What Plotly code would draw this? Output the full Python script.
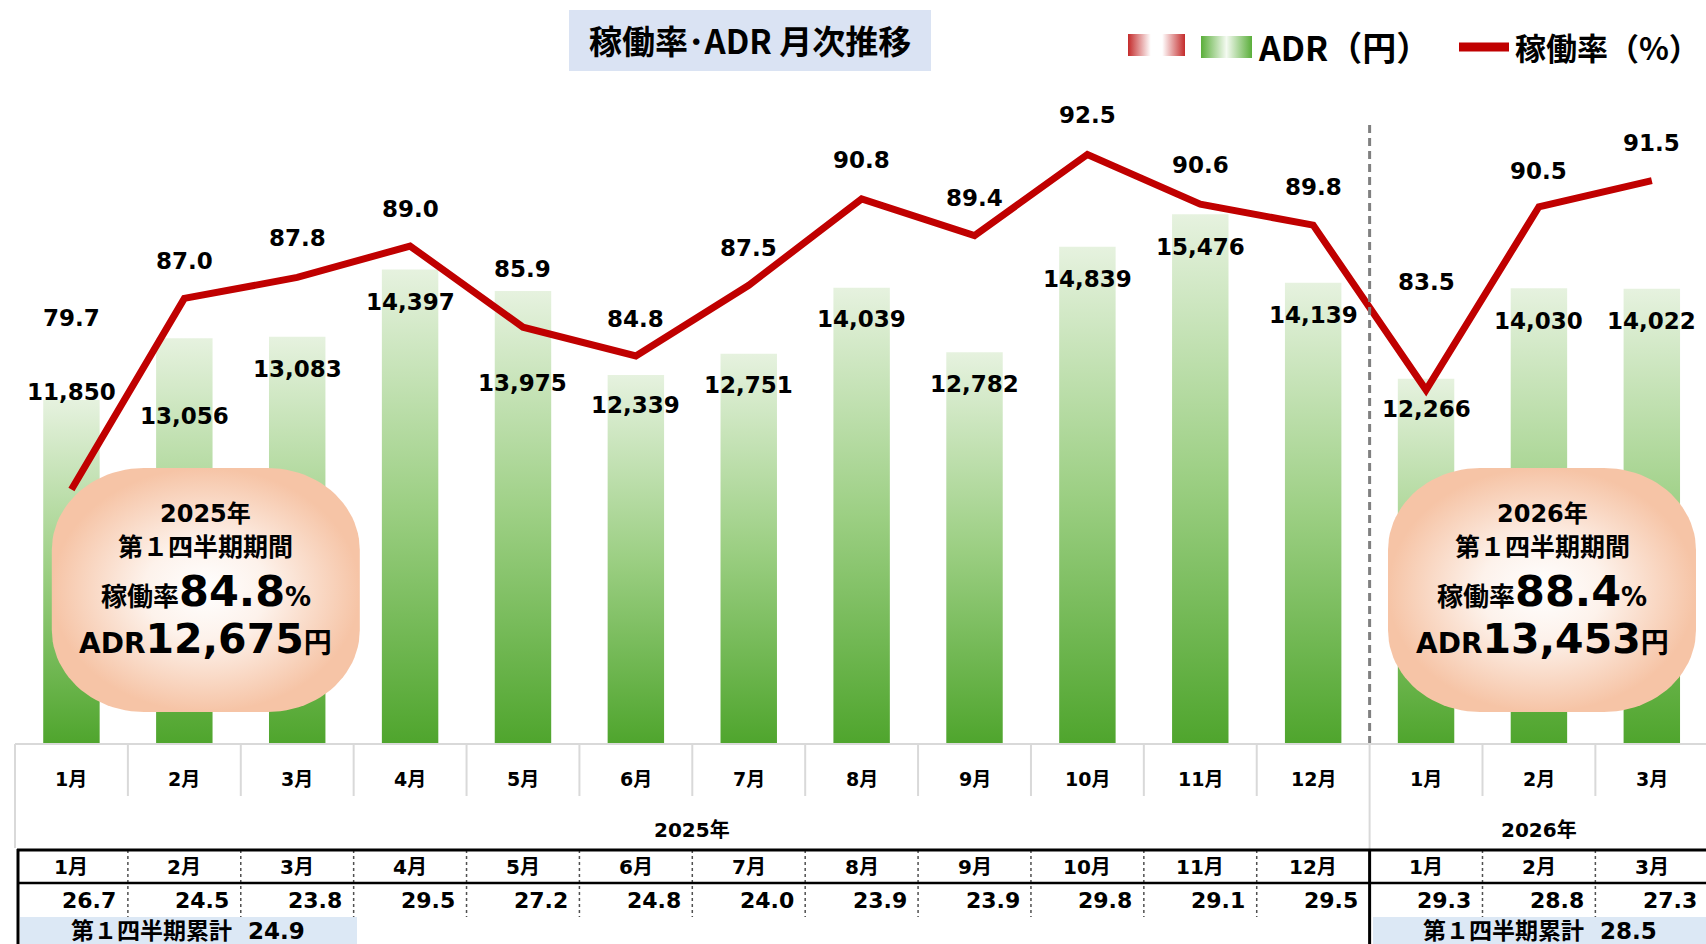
import numpy as np
import plotly.graph_objects as go

# data
months = ['1月', '2月', '3月', '4月', '5月', '6月', '7月', '8月', '9月', '10月', '11月', '12月', '1月', '2月', '3月']
adr = [11850, 13056, 13083, 14397, 13975, 12339, 12751, 14039, 12782, 14839, 15476, 14139, 12266, 14030, 14022]
occupancy = [79.7, 87.0, 87.8, 89.0, 85.9, 84.8, 87.5, 90.8, 89.4, 92.5, 90.6, 89.8, 83.5, 90.5, 91.5]
table_vals = [26.7, 24.5, 23.8, 29.5, 27.2, 24.8, 24.0, 23.9, 23.9, 29.8, 29.1, 29.5, 29.3, 28.8, 27.3]
years = ['2025年', '2026年']
q1_occupancy = [84.8, 88.4]
q1_adr = [12675, 13453]
q1_table = [24.9, 28.5]

# label placement (pixels above/below the mark)
rate_shift = [171, 37, 39, 37, 58, 37, 37, 39, 38, 39, 39, 38, 108, 36, 38]
adr_shift = [8, -78, -32, -32, -92, -30, -31, -31, -32, -32, -33, -32, -30, -33, -32]

W, H = 1706, 944
ADR_RANGE = [5145, 17707]
RATE_RANGE = [70.0, 94.58]
Y_DOM = [(H - 743.3) / H, (H - 100) / H]
NUM = 'DejaVu Sans, Noto Sans CJK JP'
JP = 'Noto Sans CJK JP'
n = len(months)
split = 11.5  # boundary between 2025 and 2026

fig = go.Figure()

# bars with vertical gradient
bar_scale = [[0, '#4fa52d'], [0.5, '#9ccf83'], [1, '#e6f2df']]
for i, v in enumerate(adr):
    b = ADR_RANGE[0]
    fig.add_trace(go.Scatter(
        x=[i - 0.25, i + 0.25, i + 0.25, i - 0.25, i - 0.25],
        y=[b, b, v, v, b], mode='lines', fill='toself',
        fillgradient=dict(type='vertical', colorscale=bar_scale),
        line=dict(width=0), hoverinfo='skip', xaxis='x', yaxis='y'))

# occupancy line
fig.add_trace(go.Scatter(x=list(range(n)), y=occupancy, mode='lines',
                         line=dict(color='#c00000', width=7),
                         hoverinfo='skip', xaxis='x', yaxis='y2'))


def rounded_rect(cx, cy, w, h, rx, ry, k=24):
    pts = []
    corners = [(cx + w / 2 - rx, cy - h / 2 + ry, -90, 0),
               (cx + w / 2 - rx, cy + h / 2 - ry, 0, 90),
               (cx - w / 2 + rx, cy + h / 2 - ry, 90, 180),
               (cx - w / 2 + rx, cy - h / 2 + ry, 180, 270)]
    for ox, oy, a0, a1 in corners:
        t = np.radians(np.linspace(a0, a1, k))
        pts += [(ox + rx * np.cos(a), oy + ry * np.sin(a)) for a in t]
    pts.append(pts[0])
    xs, ys = zip(*pts)
    return list(xs), list(ys)


# summary bubbles (pixel space overlay)
bubble_cx = [205.8, 1542]
for cx in bubble_cx:
    bx, by = rounded_rect(cx, 590, 308, 244, 92, 82)
    fig.add_trace(go.Scatter(x=bx, y=by, mode='lines', fill='toself',
                             fillgradient=dict(type='radial', colorscale=[[0, '#ffffff'], [0.4, '#fdf2eb'], [1, '#f6c4a6']]),
                             line=dict(width=0), hoverinfo='skip', xaxis='x3', yaxis='y3'))

# legend swatches
fig.add_trace(go.Scatter(x=[1128, 1185, 1185, 1128, 1128], y=[34, 34, 56, 56, 34], mode='lines', fill='toself',
                         fillgradient=dict(type='horizontal', colorscale=[[0, '#c42b2b'], [0.4, '#ffffff'], [0.6, '#ffffff'], [1, '#c42b2b']]),
                         line=dict(width=0), hoverinfo='skip', xaxis='x3', yaxis='y3'))
fig.add_trace(go.Scatter(x=[1201, 1252, 1252, 1201, 1201], y=[36, 36, 58, 58, 36], mode='lines', fill='toself',
                         fillgradient=dict(type='horizontal', colorscale=[[0, '#5aae3a'], [0.5, '#f4faf1'], [1, '#5aae3a']]),
                         line=dict(width=0), hoverinfo='skip', xaxis='x3', yaxis='y3'))
fig.add_trace(go.Scatter(x=[1459, 1509], y=[47, 47], mode='lines', line=dict(color='#c00000', width=9),
                         hoverinfo='skip', xaxis='x3', yaxis='y3'))

ann = []
shapes = []


def px_text(x, y, text, size, family=JP, xanchor='center', **kw):
    ann.append(dict(x=x, y=y, xref='x3', yref='y3', text=text, showarrow=False,
                    xanchor=xanchor, yanchor='middle', font=dict(size=size, family=family, color='black'), **kw))


# title
shapes.append(dict(type='rect', xref='x3', yref='y3', x0=569, x1=931, y0=10, y1=71,
                   fillcolor='#dae3f3', line=dict(width=0), layer='below'))
px_text(750, 40, '<b>稼働率･ADR 月次推移</b>', 33)

# legend text
px_text(1256, 46, '<b>ADR（円）</b>', 34, xanchor='left')
px_text(1513, 46, '<b>稼働率（%）</b>', 31, xanchor='left')

# value labels
for i in range(n):
    ann.append(dict(x=i, y=occupancy[i], xref='x', yref='y2', text=f'<b>{occupancy[i]:.1f}</b>',
                    showarrow=False, yshift=rate_shift[i], font=dict(size=23, family=NUM, color='black')))
    ann.append(dict(x=i, y=adr[i], xref='x', yref='y', text=f'<b>{adr[i]:,}</b>',
                    showarrow=False, yshift=adr_shift[i], font=dict(size=23, family=NUM, color='black')))

# bubble text
for k, cx in enumerate(bubble_cx):
    px_text(cx, 514, f'<b>{years[k]}</b>', 24, family=NUM)
    px_text(cx, 545, '<b>第１四半期期間</b>', 25)
    px_text(cx, 591, f'<b>稼働率<span style="font-size:43px">{q1_occupancy[k]:.1f}</span>%</b>', 26, family=NUM)
    px_text(cx, 639, f'<b>ADR<span style="font-size:41px">{q1_adr[k]:,}</span>円</b>', 28, family=NUM)

# divider between years
shapes.append(dict(type='line', xref='x', yref='y3', x0=split, x1=split, y0=125, y1=744,
                   line=dict(color='#808080', width=3, dash='8px,5px')))

# category header (gray)
shapes.append(dict(type='line', xref='x3', yref='y3', x0=15, x1=W, y0=744, y1=744, line=dict(color='#d9d9d9', width=2)))
shapes.append(dict(type='line', xref='x3', yref='y3', x0=15, x1=15, y0=744, y1=848, line=dict(color='#d9d9d9', width=2)))
for k in range(1, n):
    b = k - 0.5
    if b == split:
        shapes.append(dict(type='line', xref='x', yref='y3', x0=b, x1=b, y0=744, y1=850, line=dict(color='#d9d9d9', width=2)))
    else:
        shapes.append(dict(type='line', xref='x', yref='y3', x0=b, x1=b, y0=744, y1=796, line=dict(color='#d9d9d9', width=2)))
for i, m in enumerate(months):
    ann.append(dict(x=i, y=779, xref='x', yref='y3', text=f'<b>{m}</b>', showarrow=False,
                    font=dict(size=19, family=NUM, color='black')))
ann.append(dict(x=5.5, y=830, xref='x', yref='y3', text=f'<b>{years[0]}</b>', showarrow=False,
                font=dict(size=20, family=NUM, color='black')))
ann.append(dict(x=13, y=830, xref='x', yref='y3', text=f'<b>{years[1]}</b>', showarrow=False,
                font=dict(size=20, family=NUM, color='black')))

# lower table
shapes.append(dict(type='rect', xref='x3', yref='y3', x0=20, x1=357, y0=917, y1=944,
                   fillcolor='#dce8f5', line=dict(width=0), layer='below'))
shapes.append(dict(type='rect', xref='x3', yref='y3', x0=1373, x1=W, y0=917, y1=944,
                   fillcolor='#dce8f5', line=dict(width=0), layer='below'))
for k in range(1, n):
    b = k - 0.5
    if b != split:
        shapes.append(dict(type='line', xref='x', yref='y3', x0=b, x1=b, y0=850, y1=917,
                           line=dict(color='#505050', width=1.5, dash='dot')))
shapes.append(dict(type='line', xref='x3', yref='y3', x0=17, x1=W, y0=850, y1=850, line=dict(color='black', width=3)))
shapes.append(dict(type='line', xref='x3', yref='y3', x0=17, x1=W, y0=883, y1=883, line=dict(color='black', width=2.5)))
shapes.append(dict(type='line', xref='x3', yref='y3', x0=18, x1=18, y0=849, y1=H, line=dict(color='black', width=3)))
shapes.append(dict(type='line', xref='x', yref='y3', x0=split, x1=split, y0=849, y1=H, line=dict(color='black', width=3)))
for i, m in enumerate(months):
    ann.append(dict(x=i, y=867, xref='x', yref='y3', text=f'<b>{m}</b>', showarrow=False,
                    font=dict(size=20, family=NUM, color='black')))
    ann.append(dict(x=i, y=900, xref='x', yref='y3', text=f'<b>{table_vals[i]:.1f}</b>', showarrow=False,
                    xanchor='right', xshift=47, font=dict(size=22, family=NUM, color='black')))
px_text(188, 931, f'<b>第１四半期累計  {q1_table[0]:.1f}</b>', 23, family=NUM)
px_text(1540, 931, f'<b>第１四半期累計  {q1_table[1]:.1f}</b>', 23, family=NUM)

fig.update_layout(
    width=W, height=H, margin=dict(l=0, r=0, t=0, b=0),
    paper_bgcolor='white', plot_bgcolor='rgba(0,0,0,0)', showlegend=False,
    xaxis=dict(domain=[15 / W, 1], range=[-0.5, 14.48], visible=False, fixedrange=True),
    yaxis=dict(domain=Y_DOM, range=ADR_RANGE, visible=False, fixedrange=True),
    yaxis2=dict(overlaying='y', range=RATE_RANGE, visible=False, fixedrange=True),
    xaxis3=dict(domain=[0, 1], range=[0, W], visible=False, anchor='y3', fixedrange=True),
    yaxis3=dict(domain=[0, 1], range=[H, 0], visible=False, anchor='x3', fixedrange=True),
    annotations=ann, shapes=shapes,
)

# the page's default body margin would push the figure off the edges
fig.write_html('out.html', config={'displayModeBar': False},
               post_script="document.body.style.margin='0px';")
